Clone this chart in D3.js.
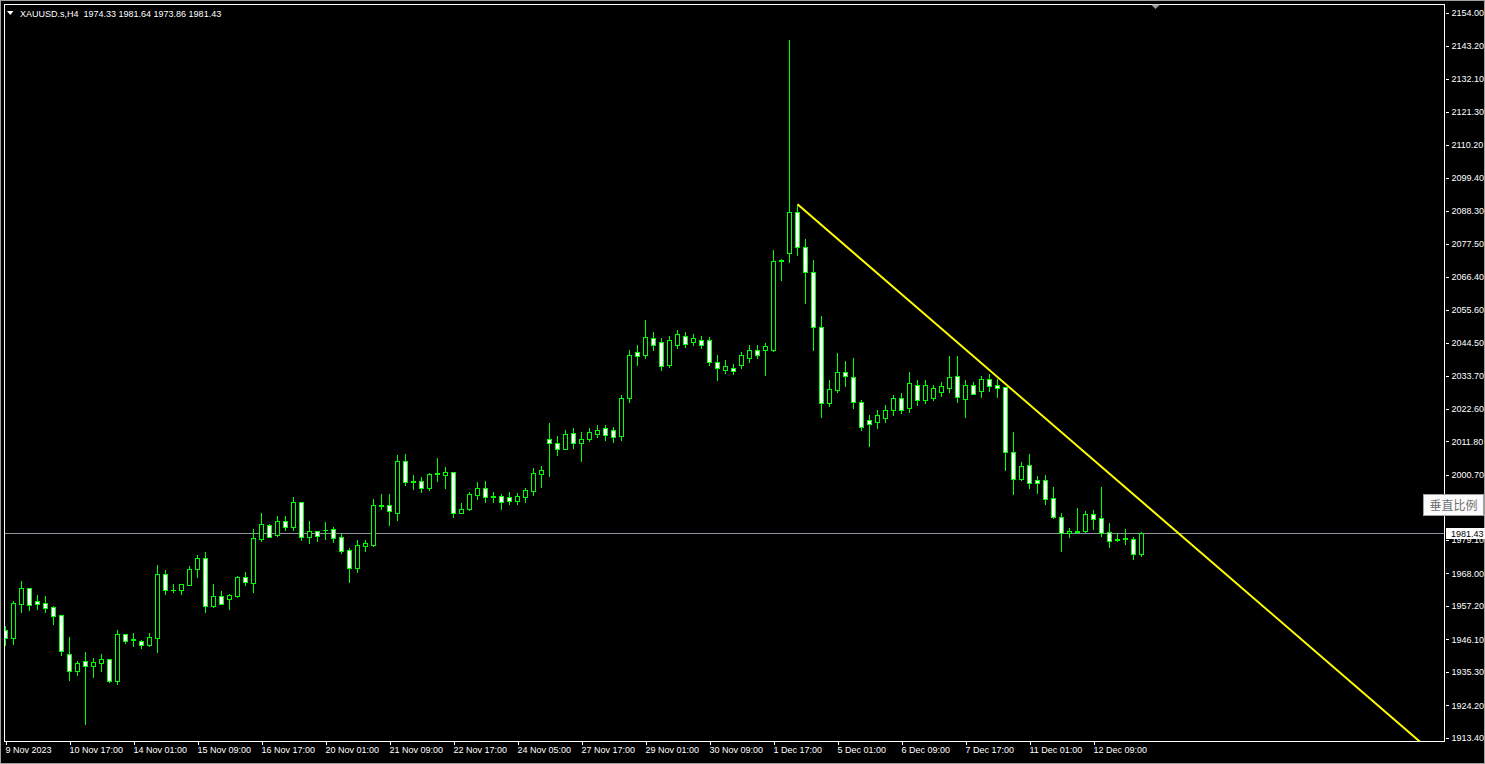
<!DOCTYPE html>
<html><head><meta charset="utf-8">
<script src="https://cdn.jsdelivr.net/npm/d3@7"></script>
<style>
html,body{margin:0;padding:0;background:#000;overflow:hidden}
svg{display:block}
</style>
</head><body>
<svg id="chart" width="1485" height="764"></svg>
<script>
// ---- DATA (XAUUSD.s, H4) ----
const symbolTitle = "XAUUSD.s,H4  1974.33 1981.64 1973.86 1981.43";
const opens = [1949.13,1946.70,1957.98,1963.07,1958.76,1958.09,1956.77,1954.11,1941.17,1935.75,
1938.85,1937.41,1938.40,1939.51,1932.43,1947.81,1946.15,1945.48,1944.27,1946.70,
1967.72,1962.63,1962.63,1964.29,1969.60,1973.03,1957.32,1960.42,1959.64,1960.64,
1966.83,1964.95,1979.56,1983.98,1980.77,1985.42,1983.54,1991.61,1980.22,1981.99,
1982.54,1982.65,1980.10,1975.79,1969.93,1977.23,1977.56,1990.50,1990.61,1988.18,
2005.33,1998.69,1998.69,1996.48,2001.01,2000.79,2001.57,1988.18,1989.40,1994.15,
1996.26,1993.60,1993.60,1993.27,1992.16,1993.49,1995.48,2001.12,2012.52,2011.19,
2009.42,2014.51,2011.41,2012.52,2014.28,2016.27,2015.61,2013.62,2026.23,2041.50,
2040.50,2046.14,2044.81,2037.18,2043.82,2046.81,2044.81,2045.48,2045.48,2038.18,
2035.52,2036.19,2037.18,2039.50,2042.16,2042.16,2042.16,2071.79,2074.25,2088.06,
2076.44,2068.14,2049.89,2024.47,2028.88,2034.86,2033.30,2024.90,2018.93,2018.27,
2019.59,2022.25,2026.23,2022.91,2030.54,2025.57,2026.23,2028.22,2029.55,2033.53,
2026.00,2030.44,2028.65,2032.53,2030.54,2029.78,2008.41,1999.35,2003.89,1999.02,
1998.92,1992.94,1986.64,1981.33,1982.09,1982.19,1987.73,1986.31,1981.66,1979.34,
1979.77,1979.44,1974.33];
const highs = [1950.57,1958.87,1965.51,1963.18,1960.86,1960.53,1957.21,1954.11,1946.92,1938.96,
1941.94,1939.84,1941.28,1939.60,1949.25,1947.92,1948.25,1945.93,1948.25,1970.82,
1969.16,1964.51,1964.45,1970.48,1974.13,1975.13,1964.51,1962.19,1961.19,1967.17,
1968.49,1982.76,1988.07,1984.42,1987.08,1987.08,1993.38,1991.72,1985.42,1982.10,
1985.08,1983.42,1981.10,1976.45,1979.11,1979.11,1992.72,1994.38,1994.38,2007.32,
2007.65,2000.79,2000.02,2001.34,2006.32,2003.34,2001.68,1991.39,1994.93,1998.36,
1998.69,1995.04,1994.26,1995.04,1994.71,1996.37,2003.00,2003.67,2017.94,2013.62,
2015.61,2016.28,2014.95,2016.27,2017.27,2017.27,2016.61,2027.23,2042.16,2043.82,
2052.11,2048.13,2046.14,2046.81,2048.80,2048.13,2047.47,2046.81,2046.47,2040.50,
2038.84,2037.51,2041.50,2043.82,2043.82,2044.48,2075.34,2072.26,2145.04,2090.44,
2079.00,2072.03,2053.44,2032.20,2041.16,2038.51,2039.50,2025.57,2020.59,2022.25,
2023.91,2027.23,2027.89,2034.86,2032.20,2032.20,2030.54,2031.54,2040.17,2040.17,
2032.20,2031.44,2033.53,2034.19,2032.44,2029.90,2014.95,2004.99,2007.65,2000.34,
2000.68,1996.69,1988.07,1982.99,1989.73,1988.73,1989.06,1996.69,1984.75,1981.33,
1982.76,1980.20,1981.64];
const lows = [1944.27,1944.60,1955.22,1955.88,1956.21,1955.22,1951.35,1940.95,1932.65,1934.31,
1918.05,1933.65,1935.75,1931.99,1931.32,1944.93,1943.94,1943.27,1943.94,1941.94,
1961.19,1961.75,1961.19,1964.20,1966.83,1955.22,1956.99,1957.80,1956.21,1960.20,
1964.18,1961.86,1978.89,1980.10,1980.55,1982.43,1982.43,1979.11,1978.22,1978.78,
1979.55,1978.56,1974.80,1965.28,1968.49,1975.46,1977.12,1989.40,1984.09,1985.75,
1997.47,1996.15,1995.15,1995.70,1998.69,1996.37,1986.74,1988.10,1989.07,1992.72,
1991.72,1991.72,1989.40,1991.17,1991.17,1991.72,1994.04,1996.70,2000.35,2007.32,
2009.30,2009.75,2005.33,2012.00,2013.29,2012.29,2011.63,2012.29,2024.90,2037.18,
2039.50,2042.16,2035.52,2036.52,2042.82,2043.15,2043.82,2042.82,2037.18,2032.20,
2034.53,2034.19,2036.19,2038.18,2039.50,2033.86,2041.83,2065.39,2071.46,2073.69,
2057.86,2042.16,2020.02,2023.57,2028.32,2030.21,2022.91,2015.61,2010.30,2016.27,
2018.27,2020.59,2021.25,2021.58,2023.91,2024.57,2025.57,2026.89,2028.22,2025.00,
2020.02,2027.50,2026.66,2028.65,2026.46,2002.34,1994.47,1999.02,1996.46,1994.80,
1991.05,1986.31,1975.56,1980.20,1981.33,1981.86,1982.66,1980.43,1976.88,1978.87,
1977.78,1972.80,1973.86];
const closes = [1946.70,1958.09,1963.07,1957.65,1957.98,1956.66,1954.00,1942.39,1935.75,1938.18,
1937.41,1938.52,1939.51,1932.32,1947.92,1945.71,1945.81,1944.38,1946.81,1967.72,
1962.63,1962.52,1964.40,1969.49,1973.03,1957.32,1960.53,1957.98,1960.86,1966.83,
1965.06,1979.67,1984.31,1980.22,1985.42,1983.54,1991.61,1980.22,1981.99,1980.55,
1982.32,1979.88,1975.57,1969.93,1977.34,1978.00,1990.61,1990.61,1988.62,2005.33,
1998.47,1998.25,1996.48,2001.01,2001.23,2001.68,1988.18,1989.40,1994.26,1996.26,
1993.49,1993.49,1991.83,1992.16,1993.60,1995.70,2001.23,2002.34,2011.19,2009.42,
2014.29,2011.41,2012.52,2014.95,2015.61,2013.95,2013.29,2026.23,2040.50,2040.17,
2046.47,2043.82,2036.85,2045.48,2047.47,2044.15,2046.14,2043.82,2038.18,2036.19,
2036.85,2035.19,2040.50,2042.16,2040.50,2043.49,2071.69,2071.93,2088.06,2076.44,
2068.14,2049.89,2024.47,2029.22,2034.86,2033.53,2025.00,2016.61,2017.60,2020.59,
2022.25,2026.23,2022.25,2031.21,2025.57,2030.54,2029.55,2030.21,2033.20,2026.46,
2030.44,2027.66,2032.53,2030.31,2029.65,2008.41,1999.25,2003.66,1997.92,1998.12,
1992.81,1986.64,1981.33,1982.09,1981.76,1987.73,1986.17,1981.53,1978.87,1979.01,
1979.34,1974.36,1981.43];

const timeTickIndex = [0,8,16,24,32,40,48,56,64,72,80,88,96,104,112,120,128,136];
const timeTickLabels = ["9 Nov 2023","10 Nov 17:00","14 Nov 01:00","15 Nov 09:00","16 Nov 17:00",
"20 Nov 01:00","21 Nov 09:00","22 Nov 17:00","24 Nov 05:00","27 Nov 17:00","29 Nov 01:00",
"30 Nov 09:00","1 Dec 17:00","5 Dec 01:00","6 Dec 09:00","7 Dec 17:00","11 Dec 01:00","12 Dec 09:00"];
// 1989.90 sits under the scale button in the reference, so it is not drawn
const priceTicks = [2154.00,2143.20,2132.10,2121.30,2110.20,2099.40,2088.30,2077.50,2066.40,2055.60,
2044.50,2033.70,2022.60,2011.80,2000.70,1979.10,1968.00,1957.20,1946.10,1935.30,1924.20,1913.40];
const priceRange = [1913.40, 2154.00];
const lastPrice = 1981.43;
const trendAnchorA = [99, 2090.5];   // [bar index, price]
const trendAnchorB = [124, 2033.2];
const scaleButtonLabel = "垂直比例";

// ---- LAYOUT ----
const W = 1485, H = 764;
const plot = {left: 4, top: 4, right: 1444, bottom: 741};
const barSpacing = 8;
const barsVisible = (plot.right - 5.5) / barSpacing;

const svg = d3.select("#chart");
const x = d3.scaleLinear().domain([0, barsVisible]).range([5.5, 5.5 + barsVisible * barSpacing]);
const y = d3.scaleLinear().domain(priceRange).range([738, 13]);

const FONT = "'Liberation Sans', Arial, sans-serif";
const LIME = "#00ff00";

svg.append("rect").attr("width", W).attr("height", H).attr("fill", "#000");

// outer window frame
svg.append("rect").attr("x",0.5).attr("y",0.5).attr("width",W-1).attr("height",H-1)
  .attr("fill","none").attr("stroke","#a0a0a0");

svg.append("defs").append("clipPath").attr("id","plotclip")
  .append("rect").attr("x", plot.left+1).attr("y", plot.top+1)
  .attr("width", plot.right - plot.left - 1).attr("height", plot.bottom - plot.top - 1);

const gPlot = svg.append("g").attr("clip-path","url(#plotclip)");

// current price line
const yl = Math.round(y(lastPrice)) + 0.5;
gPlot.append("line").attr("x1", plot.left).attr("x2", plot.right).attr("y1", yl).attr("y2", yl)
  .attr("stroke", "#8c95a0").attr("stroke-width", 1).attr("shape-rendering","crispEdges");

// candles
const data = opens.map((o, i) => ({i, o, h: highs[i], l: lows[i], c: closes[i]}));
const gC = gPlot.append("g").attr("shape-rendering","crispEdges");
data.forEach(d => {
  const cx = x(d.i);
  const yh = Math.round(y(d.h)), ylo = Math.round(y(d.l));
  gC.append("line").attr("x1", cx).attr("x2", cx).attr("y1", yh).attr("y2", ylo + 1)
    .attr("stroke", LIME).attr("stroke-width", 1);
  const yt = Math.round(y(Math.max(d.o, d.c))), yb = Math.round(y(Math.min(d.o, d.c)));
  if (yb - yt < 1) {
    gC.append("line").attr("x1", cx - 2.5).attr("x2", cx + 2.5).attr("y1", yt + 0.5).attr("y2", yt + 0.5)
      .attr("stroke", LIME).attr("stroke-width", 1);
  } else {
    gC.append("rect").attr("x", cx - 2).attr("y", yt + 0.5).attr("width", 4).attr("height", yb - yt)
      .attr("fill", d.c < d.o ? "#ffffff" : "#000000").attr("stroke", LIME).attr("stroke-width", 1);
  }
});

// trend line (ray through two anchors)
const slope = (trendAnchorB[1] - trendAnchorA[1]) / (trendAnchorB[0] - trendAnchorA[0]);
const tEnd = barsVisible + 2;
const trendPts = [trendAnchorA, [tEnd, trendAnchorA[1] + slope * (tEnd - trendAnchorA[0])]];
gPlot.append("path").datum(trendPts)
  .attr("d", d3.line().x(d => x(d[0])).y(d => y(d[1])))
  .attr("stroke", "#ffff00").attr("stroke-width", 2).attr("fill", "none");

// border of plot
svg.append("rect").attr("x", plot.left + 0.5).attr("y", plot.top + 0.5)
  .attr("width", plot.right - plot.left).attr("height", plot.bottom - plot.top)
  .attr("fill", "none").attr("stroke", "#ffffff").attr("shape-rendering","crispEdges");

// price axis
const yAxis = d3.axisRight(y).tickValues(priceTicks).tickFormat(d3.format(".2f")).tickSize(3).tickPadding(3);
const gy = svg.append("g").attr("transform", `translate(${plot.right + 1.5},0)`).call(yAxis);
gy.select(".domain").remove();
gy.selectAll(".tick line").attr("stroke","#fff").attr("shape-rendering","crispEdges");
gy.selectAll(".tick text").attr("fill","#fff").style("font-family",FONT).style("font-size","9px");

// time axis
const xAxis = d3.axisBottom(x).tickValues(timeTickIndex).tickFormat((d, k) => timeTickLabels[k]).tickSize(3).tickPadding(2);
const gx = svg.append("g").attr("transform", `translate(0,${plot.bottom + 1})`).call(xAxis);
gx.select(".domain").remove();
gx.selectAll(".tick line").attr("stroke","#fff").attr("shape-rendering","crispEdges");
gx.selectAll(".tick text").attr("fill","#fff").attr("text-anchor","start").attr("x",-0.5)
  .style("font-family",FONT).style("font-size","9px");

// last price label box
const gL = svg.append("g");
gL.append("rect").attr("x", plot.right + 2).attr("y", Math.round(y(lastPrice)) - 5)
  .attr("width", W - plot.right - 2).attr("height", 11).attr("fill", "#fff");
gL.append("text").attr("x", plot.right + 7).attr("y", Math.round(y(lastPrice)) + 4)
  .attr("fill", "#000").style("font-family",FONT).style("font-size","9px").text(d3.format(".2f")(lastPrice));

// vertical scale button
const by = 494.5;
svg.append("rect").attr("x", 1423.5).attr("y", by).attr("width", 60).attr("height", 21)
  .attr("fill", "#fbfbfb").attr("stroke", "#a0a0a0");
svg.append("text").attr("x", 1453.5).attr("y", by + 15).attr("text-anchor","middle")
  .attr("fill", "#6e6e6e").style("font-family","'Noto Sans CJK SC', sans-serif").style("font-size","12px")
  .text(scaleButtonLabel);

// title
svg.append("path").attr("d","M7,11 L13.5,11 L10.25,15 Z").attr("fill","#fff");
svg.append("text").attr("x", 20).attr("y", 16.5).attr("fill","#fff")
  .style("font-family",FONT).style("font-size","9px").attr("xml:space","preserve")
  .style("white-space","pre").text(symbolTitle);

// shift marker
svg.append("path").attr("d","M1151,4.5 L1160,4.5 L1155.5,9 Z").attr("fill","#9a9a9a");
</script>
</body></html>
